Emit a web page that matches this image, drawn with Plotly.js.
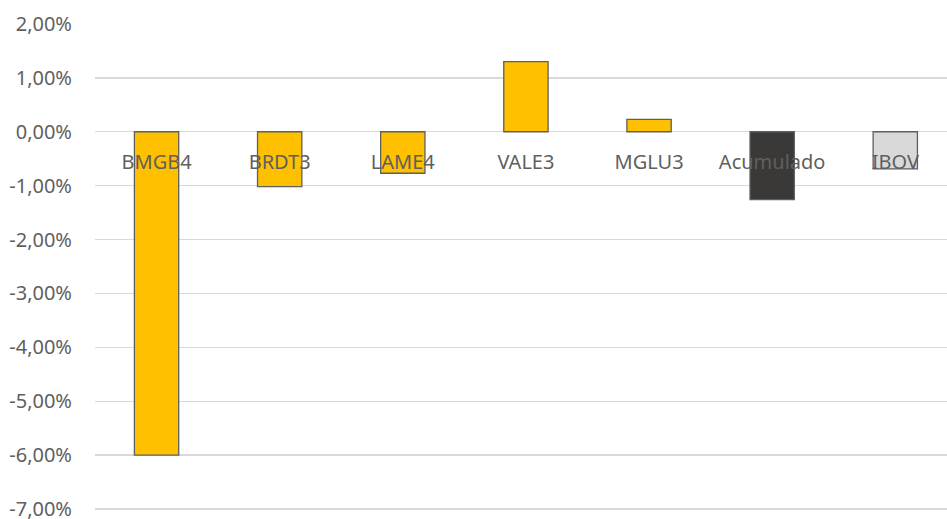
<!DOCTYPE html>
<html>
<head>
<meta charset="utf-8">
<script src="https://cdn.plot.ly/plotly-3.0.1.min.js"></script>
<style>html,body{margin:0;padding:0;background:#fff;}#chart{width:947px;height:519px;}</style>
</head>
<body>
<div id="chart"></div>
<script>
const categories = ["BMGB4", "BRDT3", "LAME4", "VALE3", "MGLU3", "Acumulado", "IBOV"];
const returns = [-0.0600, -0.0102, -0.0077, 0.0130, 0.0023, -0.0126, -0.0069];
const yTickVals = [0.02, 0.01, 0, -0.01, -0.02, -0.03, -0.04, -0.05, -0.06, -0.07];
const yTickText = ["2,00%", "1,00%", "0,00%", "-1,00%", "-2,00%", "-3,00%", "-4,00%", "-5,00%", "-6,00%", "-7,00%"];

const barColors = ["#FFC000", "#FFC000", "#FFC000", "#FFC000", "#FFC000", "#3B3838", "#D9D9D9"];

const trace = {
  type: "bar",
  x: categories,
  y: returns,
  width: 0.36,
  marker: { color: barColors, line: { color: "#5F5F5F", width: 1.3 } },
  hoverinfo: "none"
};

const layout = {
  width: 947,
  height: 519,
  margin: { l: 95, r: 0, t: 24, b: 9, pad: 0 },
  paper_bgcolor: "#ffffff",
  plot_bgcolor: "#ffffff",
  showlegend: false,
  font: { family: "Noto Sans, Open Sans, sans-serif", size: 20, color: "#595959" },
  xaxis: {
    type: "category",
    range: [-0.5, 6.42],
    anchor: "free",
    position: 7 / 9,
    showline: false,
    showgrid: false,
    ticks: "outside",
    ticklen: 12,
    tickcolor: "rgba(0,0,0,0)",
    tickfont: { family: "Noto Sans, sans-serif", size: 20, color: "#5F5F5F" },
    fixedrange: true
  },
  yaxis: {
    range: [-0.0702, 0.02],
    tickvals: yTickVals,
    ticktext: yTickText,
    ticklabeloverflow: "allow",
    showgrid: true,
    gridcolor: "#D9D9D9",
    gridwidth: 1.3,
    zeroline: true,
    zerolinecolor: "#D9D9D9",
    zerolinewidth: 1.3,
    showline: false,
    ticks: "outside",
    ticklen: 18,
    tickcolor: "rgba(0,0,0,0)",
    tickfont: { family: "Noto Sans, sans-serif", size: 20, color: "#5F5F5F" },
    fixedrange: true
  }
};

Plotly.newPlot("chart", [trace], layout, { displayModeBar: false, staticPlot: true });
</script>
</body>
</html>
